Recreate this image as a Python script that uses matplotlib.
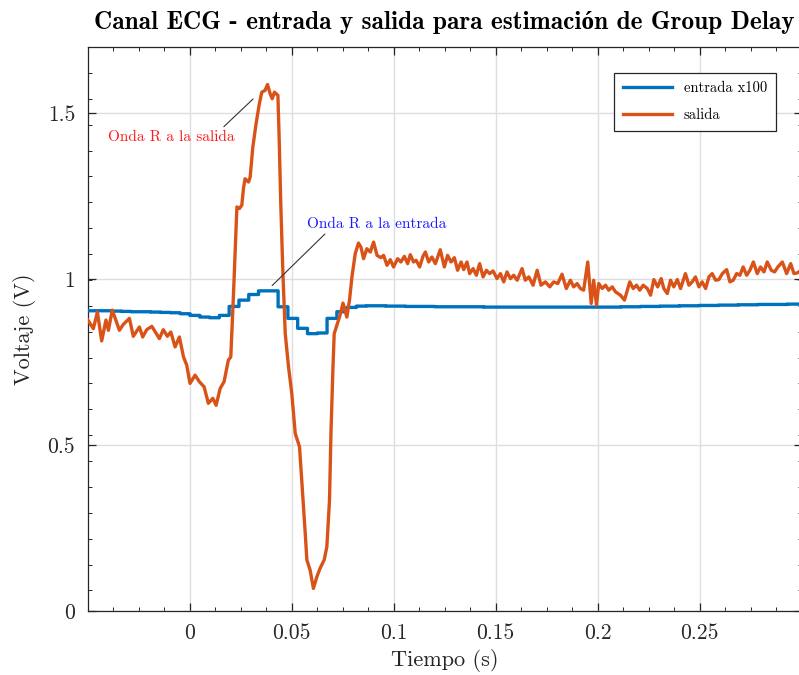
import numpy as np
import matplotlib
matplotlib.use("Agg")
import matplotlib.pyplot as plt
from matplotlib.ticker import FixedLocator, MultipleLocator

plt.rcParams["font.family"] = ["cmr10", "Liberation Serif"]
plt.rcParams["mathtext.fontset"] = "cm"
plt.rcParams["axes.unicode_minus"] = False
plt.rcParams["axes.formatter.use_mathtext"] = False

# Input channel (x100), sample-and-hold samples
t_in_start = -0.0526
t_in_step = 0.0048
entrada = [
    0.905, 0.905, 0.905, 0.904, 0.903, 0.902, 0.902, 0.901, 0.900, 0.899,
    0.896, 0.891, 0.886, 0.884, 0.891, 0.918, 0.937, 0.954, 0.965, 0.965,
    0.917, 0.882, 0.852, 0.836, 0.838, 0.882, 0.902, 0.915, 0.919, 0.920,
    0.920, 0.919, 0.919, 0.918, 0.918, 0.918, 0.917, 0.917, 0.917, 0.917,
    0.917, 0.916, 0.916, 0.916, 0.916, 0.916, 0.916, 0.916, 0.916, 0.916,
    0.916, 0.916, 0.916, 0.916, 0.916, 0.917, 0.917, 0.918, 0.918, 0.919,
    0.919, 0.920, 0.920, 0.921, 0.921, 0.922, 0.922, 0.923, 0.923, 0.924,
    0.924, 0.924, 0.925, 0.925, 0.925,
]

# Output channel
t_out = [
    -0.0504, -0.0472, -0.0452, -0.0431, -0.0410, -0.0398, -0.0379, -0.0344,
    -0.0325, -0.0295, -0.0276, -0.0246, -0.0230, -0.0210, -0.0185, -0.0148,
    -0.0129, -0.0109, -0.0092, -0.0071, -0.0050, -0.0030, -0.0014, 0.0002,
    0.0027, 0.0048, 0.0071, 0.0092, 0.0114, 0.0130, 0.0150, 0.0169,
    0.0190, 0.0202, 0.0216, 0.0232, 0.0244, 0.0256, 0.0264, 0.0272,
    0.0289, 0.0297, 0.0310, 0.0326, 0.0342, 0.0354, 0.0370, 0.0382,
    0.0395, 0.0405, 0.0416, 0.0433, 0.0439, 0.0447, 0.0457, 0.0469,
    0.0485, 0.0501, 0.0518, 0.0539, 0.0551, 0.0567, 0.0575, 0.0591,
    0.0607, 0.0624, 0.0640, 0.0660, 0.0673, 0.0686, 0.0693, 0.0703,
    0.0709, 0.0722, 0.0738, 0.0752, 0.0771, 0.0784, 0.0796, 0.0812,
    0.0828, 0.0840, 0.0853, 0.0869, 0.0886, 0.0902, 0.0919, 0.0938,
    0.0951, 0.0968, 0.0984, 0.1000, 0.1020, 0.1036, 0.1053, 0.1069,
    0.1082, 0.1098, 0.1111, 0.1128, 0.1144, 0.1156, 0.1172, 0.1188,
    0.1205, 0.1229, 0.1249, 0.1265, 0.1282, 0.1298, 0.1314, 0.1331,
    0.1344, 0.1360, 0.1373, 0.1390, 0.1406, 0.1422, 0.1439, 0.1455,
    0.1471, 0.1488, 0.1507, 0.1524, 0.1540, 0.1556, 0.1573, 0.1589,
    0.1606, 0.1630, 0.1646, 0.1663, 0.1684, 0.1704, 0.1723, 0.1744,
    0.1766, 0.1785, 0.1805, 0.1826, 0.1847, 0.1867, 0.1883, 0.1900,
    0.1916, 0.1932, 0.1952, 0.1969, 0.1981, 0.1995, 0.2006, 0.2023,
    0.2039, 0.2055, 0.2072, 0.2088, 0.2112, 0.2132, 0.2158, 0.2175,
    0.2191, 0.2207, 0.2224, 0.2244, 0.2260, 0.2276, 0.2295, 0.2312,
    0.2325, 0.2342, 0.2358, 0.2374, 0.2391, 0.2407, 0.2431, 0.2448,
    0.2464, 0.2480, 0.2497, 0.2513, 0.2530, 0.2546, 0.2562, 0.2579,
    0.2595, 0.2612, 0.2633, 0.2649, 0.2665, 0.2682, 0.2698, 0.2714,
    0.2731, 0.2747, 0.2764, 0.2783, 0.2799, 0.2816, 0.2832, 0.2852,
    0.2868, 0.2884, 0.2906, 0.2927, 0.2947, 0.2963, 0.2979, 0.3000,
]
salida = [
    0.882, 0.851, 0.901, 0.814, 0.877, 0.846, 0.907, 0.846,
    0.864, 0.882, 0.828, 0.856, 0.826, 0.848, 0.858, 0.821,
    0.848, 0.828, 0.841, 0.796, 0.826, 0.766, 0.741, 0.686,
    0.711, 0.691, 0.676, 0.626, 0.641, 0.620, 0.671, 0.691,
    0.756, 0.766, 0.967, 1.218, 1.213, 1.223, 1.273, 1.303,
    1.293, 1.308, 1.398, 1.469, 1.529, 1.564, 1.569, 1.587,
    1.559, 1.544, 1.564, 1.554, 1.429, 1.228, 1.027, 0.836,
    0.736, 0.656, 0.535, 0.495, 0.385, 0.234, 0.154, 0.123,
    0.068, 0.103, 0.129, 0.154, 0.194, 0.334, 0.535, 0.736,
    0.836, 0.861, 0.892, 0.928, 0.886, 0.937, 1.007, 1.077,
    1.109, 1.097, 1.062, 1.092, 1.082, 1.112, 1.072, 1.065,
    1.072, 1.042, 1.059, 1.037, 1.062, 1.052, 1.069, 1.047,
    1.074, 1.052, 1.057, 1.037, 1.069, 1.082, 1.052, 1.067,
    1.047, 1.089, 1.037, 1.072, 1.052, 1.065, 1.027, 1.052,
    1.029, 1.052, 1.017, 1.032, 1.012, 1.047, 1.007, 1.027,
    1.017, 1.025, 1.002, 1.017, 0.992, 1.022, 1.002, 1.012,
    0.997, 1.032, 0.997, 1.007, 0.982, 1.027, 0.982, 0.992,
    0.977, 0.992, 0.987, 1.015, 0.972, 0.997, 0.977, 0.987,
    0.972, 0.967, 1.052, 0.927, 0.997, 0.922, 0.987, 0.972,
    0.982, 0.967, 0.977, 0.962, 0.952, 0.937, 0.992, 0.972,
    0.982, 0.967, 0.982, 0.972, 0.952, 0.999, 0.977, 1.002,
    0.972, 0.957, 0.997, 0.977, 0.999, 0.972, 1.017, 0.982,
    0.992, 1.007, 0.977, 0.992, 0.972, 1.007, 1.017, 0.997,
    0.999, 1.017, 1.029, 0.992, 0.997, 1.017, 1.012, 1.037,
    1.012, 1.027, 1.052, 1.017, 1.037, 1.022, 1.052, 1.027,
    1.022, 1.037, 1.052, 1.017, 1.047, 1.017, 1.019, 1.027,
]

x_ticks = [0, 0.05, 0.1, 0.15, 0.2, 0.25]
x_tick_labels = ["0", "0.05", "0.1", "0.15", "0.2", "0.25"]
y_ticks = [0, 0.5, 1, 1.5]
y_tick_labels = ["0", "0.5", "1", "1.5"]

BLUE = "#0072BD"
ORANGE = "#D95319"

fig = plt.figure(figsize=(7.99, 6.75), dpi=100)
ax = fig.add_axes([87.6 / 799, 64 / 675, (801.5 - 87.6) / 799, (611 - 47) / 675])

t_in = t_in_start + t_in_step * np.arange(len(entrada))
ax.plot(t_in, entrada, drawstyle="steps-post", color=BLUE, lw=2.4,
        label="entrada x100", zorder=3, snap=False)
ax.plot(t_out, salida, color=ORANGE, lw=2.4, label="salida", zorder=3,
        solid_joinstyle="round", snap=False)

ax.set_xlim(-0.05, 0.3)
ax.set_ylim(0, 1.7)
ax.set_xticks(x_ticks)
ax.set_xticklabels(x_tick_labels)
ax.set_yticks(y_ticks)
ax.set_yticklabels(y_tick_labels)
ax.xaxis.set_minor_locator(MultipleLocator(0.0125))
ax.yaxis.set_minor_locator(FixedLocator(np.arange(1.7, 0, -0.078)))

ax.grid(True, which="major", color="#dedede", lw=1.0, zorder=0)
ax.set_axisbelow(True)
ax.tick_params(which="both", direction="in", top=True, right=True,
               colors="#262626", labelcolor="#262626")
ax.tick_params(which="major", length=6, width=0.9, labelsize=15.5, pad=9)
ax.tick_params(which="minor", length=3, width=0.7)
for s in ax.spines.values():
    s.set_color("#262626")
    s.set_linewidth(0.9)

ax.set_xlabel("Tiempo (s)", fontsize=16, color="#262626", labelpad=4)
ax.set_ylabel("Voltaje (V)", fontsize=16, color="#262626", labelpad=8)
ax.set_title("Canal ECG - entrada y salida para estimación de Group Delay",
             family=["cmb10", "Liberation Serif"], fontweight="bold",
             fontsize=18.2, color="black", pad=13)

leg = ax.legend(loc="upper right",
                bbox_to_anchor=((776 - 87.6) / 713.9, (611 - 73) / 564),
                fontsize=10.5, frameon=True, fancybox=False, framealpha=1,
                edgecolor="#262626", borderpad=0.6, handlelength=3.4,
                labelspacing=0.9, borderaxespad=0)
leg.get_frame().set_linewidth(0.9)

# Annotations pointing at the R waves
ax.annotate("", xy=(0.0321, 1.549), xytext=(0.0158, 1.454),
            arrowprops=dict(arrowstyle="-", color="#333333", lw=0.8))
ax.text(-0.0091, 1.428, "Onda R a la salida", color="#ff1a1a",
        fontsize=11, ha="center", va="center")
ax.annotate("", xy=(0.0395, 0.975), xytext=(0.0673, 1.142),
            arrowprops=dict(arrowstyle="-", color="#333333", lw=0.8))
ax.text(0.0918, 1.166, "Onda R a la entrada", color="#1a1aff",
        fontsize=11, ha="center", va="center")

fig.savefig("out.png", dpi=100)
